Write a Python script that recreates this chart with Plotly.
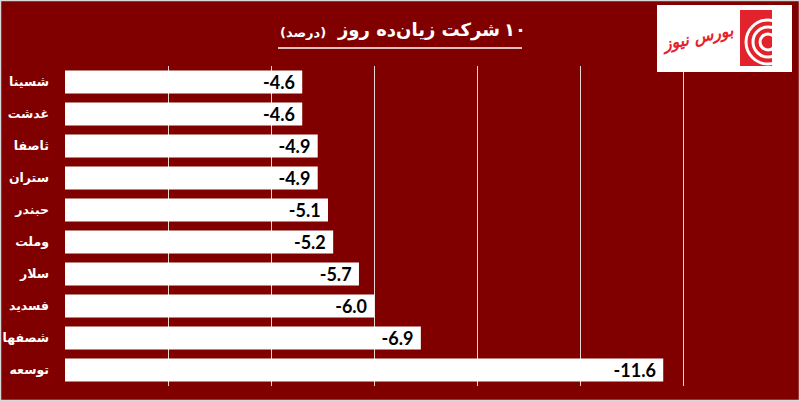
import plotly.graph_objects as go

companies = ["شسینا", "غدشت", "ثاصفا", "ستران", "حبندر", "وملت", "سلار", "فسدید", "شصفها", "توسعه"]
changes = [-4.6, -4.6, -4.9, -4.9, -5.1, -5.2, -5.7, -6.0, -6.9, -11.6]
x_ticks = [0, -2, -4, -6, -8, -10, -12, -14]

BG = "#800000"
W, H = 800, 401
L, R, T, B = 65, 13, 66, 15
PW, PH = W - L - R, H - T - B

fig = go.Figure(go.Bar(
    x=changes, y=companies, orientation="h",
    marker=dict(color="white", line=dict(width=0)),
    texttemplate="%{x:.1f}\u00a0", textposition="inside", insidetextanchor="end",
    constraintext="none",
    textfont=dict(family="Lato", size=18, color="black", weight="bold"),
    cliponaxis=False,
))

fig.update_layout(
    width=W, height=H,
    paper_bgcolor=BG, plot_bgcolor=BG,
    margin=dict(l=L, r=R, t=T, b=B, autoexpand=False),
    bargap=0.28,
    showlegend=False,
    xaxis=dict(range=[0, -14], tickvals=x_ticks, showticklabels=False,
               showgrid=True, gridcolor="#e6d6d6", gridwidth=1,
               zeroline=False, fixedrange=True, automargin=False),
    yaxis=dict(autorange="reversed", showgrid=False, zeroline=False,
               automargin=False,
               tickfont=dict(family="DejaVu Sans", size=12.5, color="white", weight="bold"),
               ticklabelstandoff=15, ticks=""),
)

def px(x):
    return (x - L) / PW

def py(y):
    return (H - B - y) / PH

def label(x, y, text, size, color="white", xanchor="center", angle=0):
    fig.add_annotation(x=px(x), y=py(y), xref="paper", yref="paper",
                       xanchor=xanchor, yanchor="middle", text=text,
                       showarrow=False, textangle=angle,
                       font=dict(family="DejaVu Sans", size=size, color=color))

# Title (number and words placed separately for correct RTL order)
label(515, 30, "<b>۱۰</b>", 18)
label(502, 30, "<b>شرکت زیان‌ده روز</b>", 18, xanchor="right")
label(303, 32, "<b>(درصد)</b>", 13)
fig.add_shape(type="line", xref="paper", yref="paper",
              x0=px(278), x1=px(522), y0=py(48), y1=py(48),
              line=dict(color="white", width=1.5))

# Logo box
fig.add_shape(type="rect", xref="paper", yref="paper",
              x0=px(657), x1=px(792), y0=py(72), y1=py(5),
              fillcolor="white", line=dict(width=0))
label(697, 38, "<b><i>بورس نیوز</i></b>", 16, color="#e3232b", angle=-12)
fig.add_shape(type="rect", xref="paper", yref="paper",
              x0=px(740), x1=px(786), y0=py(66), y1=py(10),
              fillcolor="#e3232b", line=dict(width=0))
for r in (22, 15, 8):
    fig.add_shape(type="circle", xref="paper", yref="paper",
                  x0=px(768 - r), x1=px(768 + r), y0=py(42 + r), y1=py(42 - r),
                  fillcolor="rgba(0,0,0,0)", line=dict(color="white", width=3))
fig.add_shape(type="rect", xref="paper", yref="paper",
              x0=px(772), x1=px(792), y0=py(66), y1=py(10),
              fillcolor="white", line=dict(width=0))

# Frame
fig.add_shape(type="rect", xref="paper", yref="paper",
              x0=px(0.5), x1=px(799.5), y0=py(400.5), y1=py(0.5),
              fillcolor="rgba(0,0,0,0)", line=dict(color="#d8d8d8", width=1.5))

fig.write_html("out.html", config={"displayModeBar": False},
               post_script="document.body.style.margin='0';")
